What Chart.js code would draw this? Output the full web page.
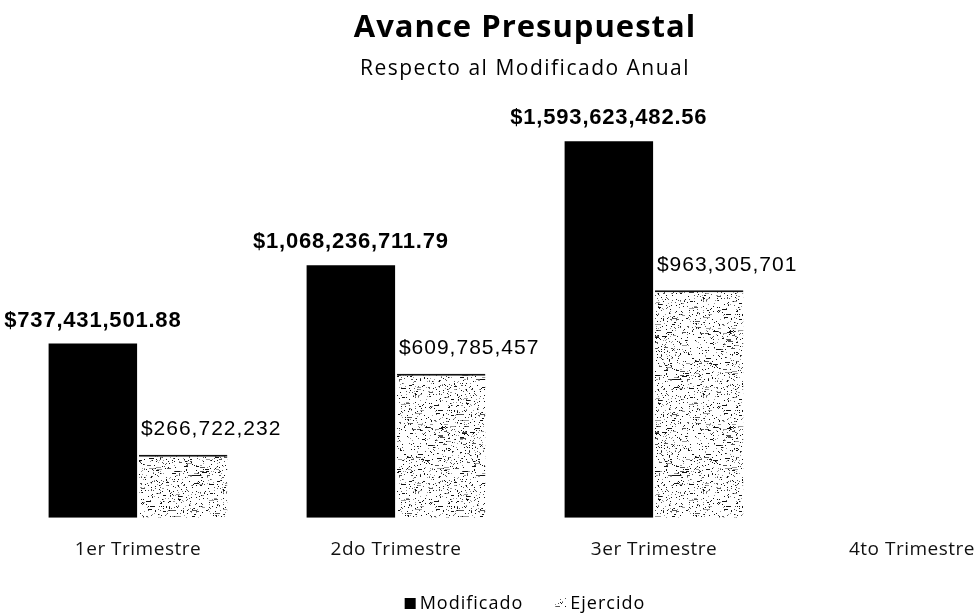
<!DOCTYPE html>
<html>
<head>
<meta charset="utf-8">
<script src="https://cdn.jsdelivr.net/npm/chart.js@4/dist/chart.umd.min.js"></script>
<style>
  html, body { margin: 0; padding: 0; background: #ffffff; overflow: hidden; width: 978px; height: 615px; }
  #wrap { position: absolute; left: 0; top: 0; width: 1050px; height: 615px; }
</style>
</head>
<body>
<div id="wrap"><canvas id="c" width="1050" height="615"></canvas></div>
<script>
// ---- data ----
const categories = ['1er Trimestre', '2do Trimestre', '3er Trimestre', '4to Trimestre'];
const modificado = [737431501.88, 1068236711.79, 1593623482.56, null];
const ejercido = [266722232, 609785457, 963305701, null];
const seriesNames = ['Modificado', 'Ejercido'];
const titleText = 'Avance Presupuestal';
const subtitleText = 'Respecto al Modificado Anual';

// ---- speckled fill for the "Ejercido" bars (deterministic texture) ----
function makeSpeckle() {
  const s = 96;
  const cv = document.createElement('canvas');
  cv.width = s; cv.height = s;
  const g = cv.getContext('2d');
  g.fillStyle = '#ffffff';
  g.fillRect(0, 0, s, s);
  let seed = 12345;
  const rnd = () => { seed = (seed * 1103515245 + 12345) & 0x7fffffff; return seed / 0x7fffffff; };
  for (let i = 0; i < 1000; i++) {
    const x = Math.floor(rnd() * s), y = Math.floor(rnd() * s);
    const r = rnd();
    g.fillStyle = r < 0.45 ? '#111' : (r < 0.75 ? '#555' : '#999');
    const w = rnd() < 0.12 ? 2 + Math.floor(rnd() * 4) : 1;
    g.fillRect(x, y, w, 1);
  }
  return g.createPattern(cv, 'repeat');
}
const speckle = makeSpeckle();
const seriesFills = ['#000000', speckle];

function fmt(v, dec) {
  return '$' + v.toLocaleString('en-US', { minimumFractionDigits: dec, maximumFractionDigits: dec });
}

const textSpacing = {
  id: 'textSpacing',
  beforeDraw(chart) { chart.ctx.letterSpacing = '0.5px'; }
};

const valueLabels = {
  id: 'valueLabels',
  afterDatasetsDraw(chart) {
    const ctx = chart.ctx;
    ctx.save();
    ctx.textBaseline = 'middle';
    ctx.fillStyle = '#000';
    chart.data.datasets.forEach((ds, di) => {
      const meta = chart.getDatasetMeta(di);
      meta.data.forEach((bar, i) => {
        const v = ds.data[i];
        if (v == null) return;
        if (di === 0) {
          ctx.font = 'bold 22px "Liberation Sans", Arial, sans-serif';
          ctx.letterSpacing = '0.8px';
          ctx.textAlign = 'center';
          ctx.fillText(fmt(v, 2), bar.x, bar.y - 23);
        } else {
          ctx.font = '21px "Liberation Sans", Arial, sans-serif';
          ctx.letterSpacing = '1px';
          ctx.textAlign = 'left';
          ctx.fillText(fmt(v, 0), bar.x - bar.width / 2 + 2, bar.y - 25);
        }
      });
    });
    ctx.restore();
  }
};

// title, subtitle and legend drawn on the canvas, centred on the plot area
const headerAndLegend = {
  id: 'headerAndLegend',
  afterDraw(chart) {
    const ctx = chart.ctx;
    const ca = chart.chartArea;
    const cx = (ca.left + ca.right) / 2;
    ctx.save();
    ctx.fillStyle = '#000';
    ctx.textAlign = 'center';
    ctx.textBaseline = 'alphabetic';
    ctx.font = '700 31px "Open Sans", sans-serif';
    ctx.letterSpacing = '1px';
    ctx.fillText(titleText, cx, 37);
    ctx.font = '400 21px "Open Sans", sans-serif';
    ctx.letterSpacing = '1.5px';
    ctx.fillText(subtitleText, cx, 75);

    // legend
    ctx.font = '400 18px "Open Sans", sans-serif';
    ctx.letterSpacing = '1px';
    const box = 11, gapBox = 4, gapItem = 32;
    const widths = seriesNames.map(n => ctx.measureText(n).width);
    let total = 0;
    widths.forEach((w, i) => { total += box + gapBox + w + (i < widths.length - 1 ? gapItem : 0); });
    let x = cx - total / 2;
    const yc = 603.5;
    ctx.textAlign = 'left';
    ctx.textBaseline = 'middle';
    seriesNames.forEach((n, i) => {
      ctx.fillStyle = seriesFills[i];
      ctx.fillRect(x, yc - box / 2, box, box);
      x += box + gapBox;
      ctx.fillStyle = '#000';
      ctx.fillText(n, x, yc);
      x += widths[i] + gapItem;
    });
    ctx.restore();
  }
};

new Chart(document.getElementById('c'), {
  type: 'bar',
  data: {
    labels: categories,
    datasets: [
      {
        label: seriesNames[0],
        data: modificado,
        backgroundColor: seriesFills[0],
        borderWidth: 0,
        categoryPercentage: 0.7,
        barPercentage: 0.98
      },
      {
        label: seriesNames[1],
        data: ejercido,
        backgroundColor: seriesFills[1],
        borderColor: '#111111',
        borderWidth: { top: 2, left: 0, right: 0, bottom: 0 },
        borderSkipped: 'bottom',
        categoryPercentage: 0.7,
        barPercentage: 0.98
      }
    ]
  },
  options: {
    responsive: false,
    animation: false,
    devicePixelRatio: 1,
    layout: { padding: { left: 9, right: 9, top: 92.5, bottom: 34.5 } },
    plugins: {
      title: { display: false },
      subtitle: { display: false },
      legend: { display: false },
      tooltip: { enabled: false }
    },
    scales: {
      x: {
        grid: { display: false, drawTicks: false },
        border: { display: false },
        ticks: {
          color: '#111',
          padding: 20,
          maxRotation: 0,
          autoSkip: false,
          font: { family: '"Open Sans", sans-serif', size: 19 }
        }
      },
      y: {
        display: false,
        min: 0,
        max: 1800000000
      }
    }
  },
  plugins: [textSpacing, valueLabels, headerAndLegend]
});
</script>
</body>
</html>
